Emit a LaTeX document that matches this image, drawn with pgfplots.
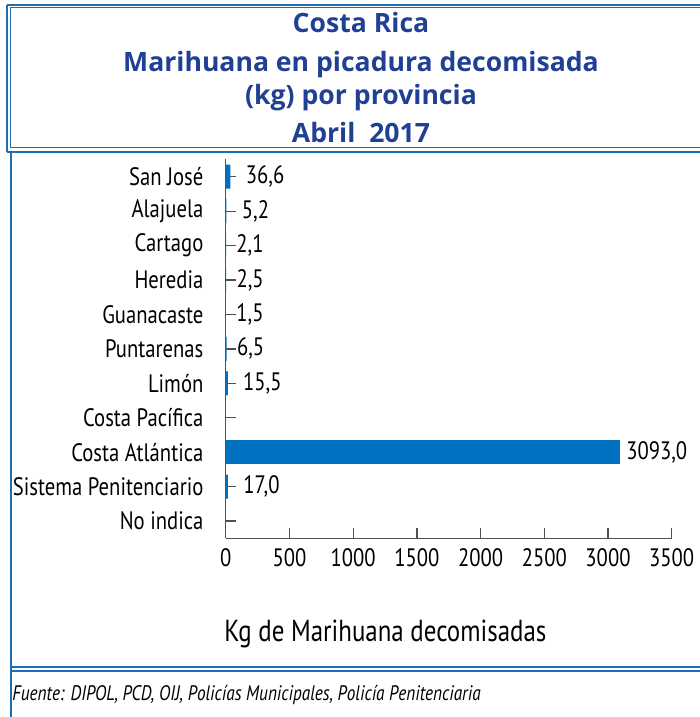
\documentclass[border=0pt]{standalone}
\usepackage{fontspec}
\setmainfont{PT Sans}[FakeStretch=0.82]
\newfontfamily\titlefont{Open Sans}
\usepackage{pgfplots}
\pgfplotsset{compat=1.18}

\definecolor{barblue}{RGB}{0,112,192}
\definecolor{framecol}{RGB}{30,110,178}
\definecolor{titlecol}{RGB}{32,64,148}
\definecolor{axcol}{RGB}{80,80,80}

\newcommand{\lblfont}{\fontsize{12.6}{14}\selectfont}

\begin{document}
\begin{tikzpicture}
\path[use as bounding box] (0,0) rectangle (350pt,358.5pt);

% frames, titles, notes in pixel units of the reference (y downwards)
\begin{scope}[x=0.5pt,y=-0.5pt,shift={(0pt,358.5pt)}]
  % title box
  \draw[framecol, line width=0.8pt] (7,5) -- (712,5);
  \draw[framecol, line width=0.5pt] (10,8) -- (712,8);
  \draw[framecol, line width=0.5pt] (10,148) -- (712,148);
  \draw[framecol, line width=0.8pt] (7,152) -- (712,152);
  \draw[framecol, line width=0.8pt] (7,5) -- (7,152);
  \draw[framecol, line width=0.5pt] (10,8) -- (10,148);
  % chart box
  \draw[framecol, line width=1pt] (11,152) -- (11,720);
  \draw[framecol, line width=1pt] (11,667) -- (712,667);
  \draw[framecol, line width=0.6pt] (11,671) -- (712,671);

  \begin{scope}[every node/.style={anchor=base, text=titlecol, inner sep=0pt,
      font=\titlefont\bfseries\fontsize{13.3}{15}\selectfont}]
    \node at (361,33) {Costa Rica};
    \node at (361,72) {Marihuana en picadura decomisada};
    \node at (361,105) {(kg) por provincia};
    \node at (361,143) {Abril\ \ 2017};
  \end{scope}

  \node[inner sep=0pt, font=\fontsize{15.2}{18}\selectfont] at (385.4,634) {Kg de Marihuana decomisadas};
  \node[anchor=west, inner sep=0pt, font=\itshape\fontsize{10.5}{12}\selectfont] at (12,695)
    {Fuente: DIPOL, PCD, OIJ, Policías Municipales, Policía Penitenciaria};
\end{scope}

\begin{axis}[
    at={(112.9pt,89.35pt)}, anchor=south west,
    scale only axis,
    width=222.95pt, height=189.4pt,
    xmin=0, xmax=3500,
    ymin=-0.5, ymax=10.5,
    y dir=reverse,
    xtick={0,500,...,3500},
    ytick={0,...,10},
    yticklabels={San José, Alajuela, Cartago, Heredia, Guanacaste, Puntarenas,
                 Limón, Costa Pacífica, Costa Atlántica, Sistema Penitenciario, No indica},
    axis x line*=bottom, axis y line*=left,
    axis line style={axcol, line width=0.6pt, -},
    tick align=inside,
    major tick length=5pt,
    tick style={axcol, line width=0.6pt},
    xticklabel style={inner sep=0pt, yshift=-5pt, font=\lblfont,
                      /pgf/number format/1000 sep={}},
    yticklabel style={inner sep=0pt, xshift=-11pt, font=\lblfont},
    /pgf/number format/assume math mode=true,
    clip=false,
    bar width=12pt,
    every node near coord/.append style={anchor=west, inner sep=0pt, font=\lblfont,
        /pgf/number format/fixed, /pgf/number format/fixed zerofill,
        /pgf/number format/precision=1, /pgf/number format/use comma,
        /pgf/number format/1000 sep={}, /pgf/number format/assume math mode=true},
]
% labels set a little further from the axis
\addplot[xbar, bar shift=0pt, fill=barblue, draw=none,
    nodes near coords, every node near coord/.append style={xshift=7.5pt}]
    coordinates {(36.6,0) (5.2,1) (15.5,6) (17.0,9)};
% labels set close to the axis
\addplot[xbar, bar shift=0pt, fill=barblue, draw=none,
    nodes near coords, every node near coord/.append style={xshift=5pt}]
    coordinates {(2.1,2) (2.5,3) (1.5,4) (6.5,5)};
% the large bar
\addplot[xbar, bar shift=0pt, fill=barblue, draw=none,
    nodes near coords, every node near coord/.append style={xshift=3pt}]
    coordinates {(3093.0,8)};
\end{axis}
\end{tikzpicture}
\end{document}
